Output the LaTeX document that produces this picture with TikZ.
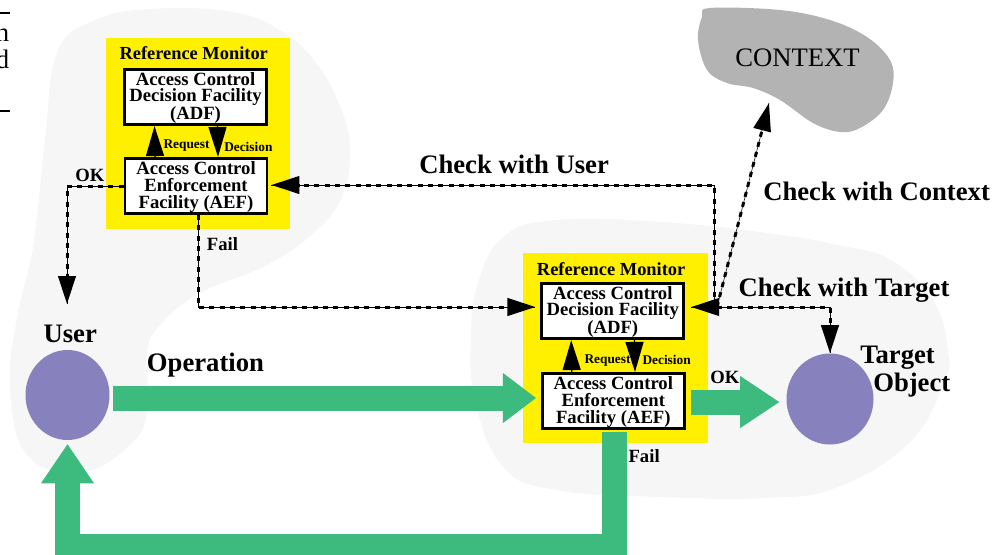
\documentclass[tikz,border=0pt]{standalone}
\usepackage{fontspec}
\setmainfont{Liberation Serif}
\usetikzlibrary{arrows.meta,shapes.geometric,calc}
\definecolor{blobgray}{RGB}{246,246,246}
\definecolor{ctxgray}{RGB}{179,179,179}
\definecolor{rmyellow}{RGB}{255,240,0}
\definecolor{nodepurple}{RGB}{135,130,189}
\definecolor{flowgreen}{RGB}{61,186,125}
\begin{document}
\begin{tikzpicture}[x=0.75pt,y=-0.75pt,
  rmbox/.style={fill=rmyellow, draw=none, inner sep=0pt},
  facbox/.style={draw, fill=white, line width=2pt, minimum width=106.5pt, minimum height=41.6pt,
    inner sep=0pt},
  boxtxt/.style={align=center, inner sep=0pt, font=\bfseries\fontsize{14}{12.5}\selectfont},
  entity/.style={ellipse, fill=nodepurple, draw=none, inner sep=0pt},
  biglbl/.style={font=\bfseries\fontsize{20}{24}\selectfont, anchor=base west, inner sep=0pt},
  midlbl/.style={font=\bfseries\fontsize{14}{16}\selectfont, anchor=base west, inner sep=0pt},
  rmlbl/.style={font=\bfseries\fontsize{13.8}{16}\selectfont, anchor=base west, inner sep=0pt},
  smalllbl/.style={font=\bfseries\fontsize{10}{12}\selectfont, anchor=base west, inner sep=0pt},
  pagetxt/.style={font=\fontsize{20}{24}\selectfont, anchor=base east, inner sep=0pt},
  dashconn/.style={line width=2.25pt, dash pattern=on 3.75pt off 4pt,
    preaction={draw, solid, line width=0.4pt, arrows=-}},
  dtip/.style={-{Triangle[length=21pt,width=13pt]}},
  rdtip/.style={-{Triangle[length=22.5pt,width=13.5pt]}},
  gflow/.style={draw=flowgreen, line width=18.75pt},
]
\useasboundingbox (0,0) rectangle (1003,554);

% background blobs
\fill[blobgray] plot[smooth cycle, tension=0.7] coordinates {
 (150,9) (233,12) (283,32) (317,64) (340,106) (350,148) (343,194) (317,230)
 (267,265) (200,293) (160,325) (147,353) (148,406) (133,442) (83,472) (28,456)
 (10,389) (17,318) (33,247) (45,140) (57,53) (93,21)};
\fill[blobgray] plot[smooth cycle, tension=0.7] coordinates {
 (556,220) (662,222) (767,233) (838,245) (891,260) (933,300) (948,350) (944,383)
 (909,443) (838,487) (767,498) (662,497) (556,490) (503,467) (475,400) (471,333)
 (478,283) (503,237)};
\fill[ctxgray] plot[smooth cycle, tension=0.6] coordinates {
 (710,8) (780,10) (830,20) (867,37) (890,60) (893,83) (883,110) (860,128)
 (840,132) (813,123) (780,100) (753,88) (727,83) (707,70) (698,40) (702,17)};

% page fragments at top left
\node[pagetxt] (pn) at (9.5,41.7) {n};
\node[pagetxt] (pd) at (9.5,68) {d};
\draw[line width=1.5pt] (0,13.3) -- (10,13.3);
\draw[line width=1.5pt] (0,111) -- (10,111);

% reference monitors
\node[rmbox, minimum width=138pt, minimum height=143.25pt] (rm1) at (198,133.5) {};
\node[rmlbl] (rm1lbl) at (119.3,59.3) {Reference Monitor};
\node[facbox] (adf1) at (195.5,97) {};
\node[facbox] (aef1) at (196,186) {};
\node[boxtxt] (adf1t) at ($(adf1)+(0,1)$) {Access Control\\Decision Facility\\(ADF)};
\node[boxtxt] (aef1t) at ($(aef1)+(0,1)$) {Access Control\\Enforcement\\Facility (AEF)};

\node[rmbox, minimum width=138.75pt, minimum height=142.5pt] (rm2) at (615.5,348) {};
\node[rmlbl] (rm2lbl) at (536.7,275) {Reference Monitor};
\node[facbox] (adf2) at (612.8,311) {};
\node[facbox] (aef2) at (613.3,401) {};
\node[boxtxt] (adf2t) at ($(adf2)+(0,1)$) {Access Control\\Decision Facility\\(ADF)};
\node[boxtxt] (aef2t) at ($(aef2)+(0,1)$) {Access Control\\Enforcement\\Facility (AEF)};

% entities
\node[entity, minimum width=63pt, minimum height=67.5pt] (user) at (67.5,395) {};
\node[entity, minimum width=65.25pt, minimum height=68.25pt] (target) at (830,399) {};

% context text
\node[font=\fontsize{20}{24}\selectfont, anchor=base west, inner sep=0pt] (context) at (735,66.7) {CONTEXT};

% labels
\node[biglbl] (userlbl) at (43.3,342.3) {User};
\node[biglbl] (oplbl) at (146.7,371) {Operation};
\node[biglbl] (cwu) at (419,173.3) {Check with User};
\node[biglbl] (cwc) at (763,200) {Check with Context};
\node[biglbl] (cwt) at (738.3,296.7) {Check with Target};
\node[biglbl] (tgt1) at (860,363) {Target};
\node[biglbl] (tgt2) at (873,391.7) {Object};
\node[smalllbl] (req1) at (163.3,148) {Request};
\node[smalllbl] (dec1) at (224,151.7) {Decision};
\node[smalllbl] (req2) at (584.3,363.3) {Request};
\node[smalllbl] (dec2) at (642.3,364) {Decision};
\node[midlbl] (ok1) at (75,181) {OK};
\node[midlbl] (fail1) at (206.7,250) {Fail};
\node[midlbl] (ok2) at (710,383.3) {OK};
\node[midlbl] (fail2) at (628.3,462.7) {Fail};

% coordinates
\coordinate (J) at (717,307);
\coordinate (ctxtip) at (769,103);
\coordinate (oktip) at (67,304);

% request / decision arrows
\draw[rdtip, line width=1pt] ($(aef1.north)+(-41,0)$) -- ($(adf1.south)+(-41,0)$);
\draw[rdtip, line width=1pt] ($(adf1.south)+(22,0)$) -- ($(aef1.north)+(22,0)$);
\draw[rdtip, line width=1pt] ($(aef2.north)+(-41.6,0)$) -- ($(adf2.south)+(-41.6,0)$);
\draw[rdtip, line width=1pt] ($(adf2.south)+(21.7,0)$) -- ($(aef2.north)+(21.7,0)$);

% dashed connectors
\draw[dashconn, dtip] ($(J)+(-3,0)$) |- ($(aef1.east)+(3,-1)$);
\draw[dashconn, dtip] ($(aef1.south)+(2,0)$) |- ($(adf2.west)+(-5,-4)$);
\draw[dashconn, dtip] (J) -- ($(adf2.east |- J)+(6,0)$);
\draw[dashconn, dtip] (J) -- (ctxtip);
\draw[dashconn, dtip] (J) -| (target.north);
\draw[dashconn, dtip] (aef1.west) -| (oktip);

% green flows
\draw[gflow, -{Triangle[length=24.75pt,width=37.5pt,line width=0pt]}]
  ($(user.east)+(3,3)$) -- ($(aef2.west)+(-5,-3)$);
\draw[gflow, -{Triangle[length=29.25pt,width=39pt,line width=0pt]}]
  ($(aef2.east)+(5,1)$) -- ($(target.west)+(-7,3)$);
\draw[gflow, -{Triangle[length=29.25pt,width=39.75pt,line width=0pt]}]
  ($(aef2.south)+(0.7,2)$) -- ++(0,114) -| ($(user.south)+(0,4)$);
\end{tikzpicture}
\end{document}
